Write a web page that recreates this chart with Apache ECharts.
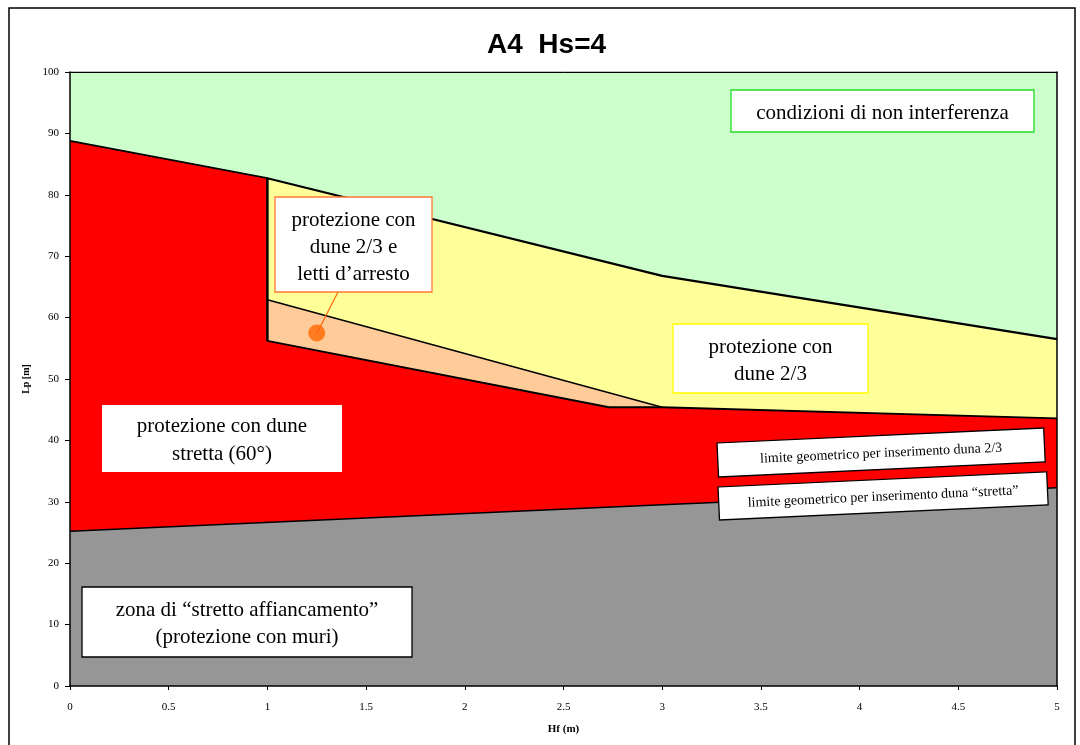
<!DOCTYPE html>
<html>
<head>
<meta charset="utf-8">
<script src="https://cdn.jsdelivr.net/npm/echarts@6/dist/echarts.min.js"></script>
<style>
html,body{margin:0;padding:0;background:#fff;}
#chart{width:1080px;height:745px;}
</style>
</head>
<body>
<div id="chart"></div>
<script>
// ---- data (Hf [m], Lp [m]) ----
const titleText = 'A4  Hs=4';
const xName = 'Hf (m)';
const yName = 'Lp [m]';
const greenZone = [[0, 100], [5, 100]];                       // condizioni di non interferenza
const yellowZone = [[1, 56.2], [1, 82.7], [3, 66.8], [5, 56.5]]; // protezione con dune 2/3
const orangeZone = [[1, 62.9], [3, 45.4]];                    // dune 2/3 e letti d'arresto
const redZone = [[0, 88.8], [1, 82.7], [1, 56.2], [2.73, 45.4], [3, 45.4], [5, 43.6]]; // dune strette
const grayZone = [[0, 25.2], [3, 29.5], [5, 32.3]];           // stretto affiancamento
const calloutPoint = [[1.25, 57.5]];

const serif = '"Liberation Serif", "DejaVu Serif", serif';
const sans = '"Liberation Sans", Arial, sans-serif';

const chart = echarts.init(document.getElementById('chart'), null, {renderer: 'canvas'});

function areaSeries(name, data, color, lw) {
  return {
    name: name, type: 'line', data: data, symbol: 'none', silent: true,
    lineStyle: {color: '#000', width: lw},
    areaStyle: {color: color, opacity: 1, origin: 'start'},
    clip: true
  };
}

function box(x, y, w, h, border, lines, fs, lh, dy, extra) {
  const children = [{
    type: 'rect', z: 100, shape: {x: 0, y: 0, width: w, height: h},
    style: {fill: '#fff', stroke: border === 'none' ? null : border, lineWidth: 1.3}
  }];
  const n = lines.length;
  lines.forEach(function (t, i) {
    children.push({
      type: 'text', z: 101,
      style: {
        text: t, x: w / 2, y: h / 2 + dy + (i - (n - 1) / 2) * lh,
        fill: '#000', fontSize: fs, fontFamily: serif,
        align: 'center', verticalAlign: 'middle',
        textAlign: 'center', textVerticalAlign: 'middle'
      }
    });
  });
  return Object.assign({type: 'group', x: x, y: y, z: 100, silent: true, children: children}, extra || {});
}

const option = {
  animation: false,
  backgroundColor: '#fff',
  title: {
    text: titleText, left: 482, top: 26,
    textStyle: {fontFamily: sans, fontWeight: 'bold', fontSize: 28, color: '#000'}
  },
  grid: {left: 70, right: 23, top: 72, bottom: 59, containLabel: false},
  xAxis: [{
    type: 'value', min: 0, max: 5, interval: 0.5, z: 10,
    name: xName, nameLocation: 'middle', nameGap: 38,
    nameTextStyle: {fontFamily: serif, fontWeight: 'bold', fontSize: 11, color: '#000'},
    axisLine: {show: true, onZero: false, lineStyle: {color: '#000', width: 1.5}},
    axisTick: {show: true, inside: false, length: 4, lineStyle: {color: '#000'}},
    axisLabel: {fontFamily: serif, fontSize: 11, color: '#000', margin: 16,
      formatter: function (v) { return String(v); }},
    splitLine: {show: false}
  }, {
    type: 'value', min: 0, max: 5, position: 'top', z: 10,
    axisLine: {show: true, onZero: false, lineStyle: {color: '#000', width: 1}},
    axisTick: {show: false}, axisLabel: {show: false}, splitLine: {show: false}
  }],
  yAxis: [{
    type: 'value', min: 0, max: 100, interval: 10, z: 10,
    name: yName, nameLocation: 'middle', nameGap: 37,
    nameTextStyle: {fontFamily: serif, fontWeight: 'bold', fontSize: 10, color: '#000'},
    axisLine: {show: true, onZero: false, lineStyle: {color: '#000', width: 1.5}},
    axisTick: {show: true, inside: false, length: 5, lineStyle: {color: '#000'}},
    axisLabel: {fontFamily: serif, fontSize: 11, color: '#000', margin: 11},
    splitLine: {show: false}
  }, {
    type: 'value', min: 0, max: 100, position: 'right', z: 10,
    axisLine: {show: true, onZero: false, lineStyle: {color: '#000', width: 1.5}},
    axisTick: {show: false}, axisLabel: {show: false}, splitLine: {show: false}
  }],
  series: [
    areaSeries('non interferenza', greenZone, '#ccffcc', 1),
    areaSeries('dune 2/3', yellowZone, '#ffff99', 2.2),
    areaSeries('dune 2/3 e letti', orangeZone, '#ffcc99', 1.5),
    areaSeries('dune strette', redZone, '#ff0000', 1.8),
    areaSeries('stretto affiancamento', grayZone, '#969696', 1.5),
    {
      name: 'callout', type: 'scatter', data: calloutPoint, symbol: 'circle',
      symbolSize: 17, itemStyle: {color: '#ff6600'}, z: 20, silent: true
    }
  ],
  graphic: [
    {type: 'rect', z: 200, silent: true,
      shape: {x: 9, y: 8, width: 1066, height: 760},
      style: {fill: 'none', stroke: '#000', lineWidth: 1.5}},
    {type: 'line', z: 99, silent: true,
      shape: {x1: 338, y1: 292, x2: 317, y2: 333},
      style: {stroke: '#ff6600', lineWidth: 1.2}},
    box(731, 90, 303, 42, '#22dd22', ['condizioni di non interferenza'], 21, 27, 2),
    box(275, 197, 157, 95, '#ff7a33', ['protezione con', 'dune 2/3 e', 'letti d\u2019arresto'], 21, 27, 3),
    box(673, 324, 195, 69, '#ffff00', ['protezione con', 'dune 2/3'], 21, 27, 2),
    box(102, 405, 240, 67, 'none', ['protezione con dune', 'stretta (60\u00b0)'], 21, 28, 2),
    box(82, 587, 330, 70, '#000', ['zona di \u201cstretto affiancamento\u201d', '(protezione con muri)'], 21, 27, 2),
    box(0, 0, 327, 34, '#000', ['limite geometrico per inserimento duna 2/3'], 14, 16, 1,
      {x: 717, y: 443, rotation: 0.046}),
    box(0, 0, 329, 33, '#000', ['limite geometrico per inserimento duna \u201cstretta\u201d'], 14, 16, 1,
      {x: 718, y: 487, rotation: 0.046})
  ]
};
chart.setOption(option);
</script>
</body>
</html>
